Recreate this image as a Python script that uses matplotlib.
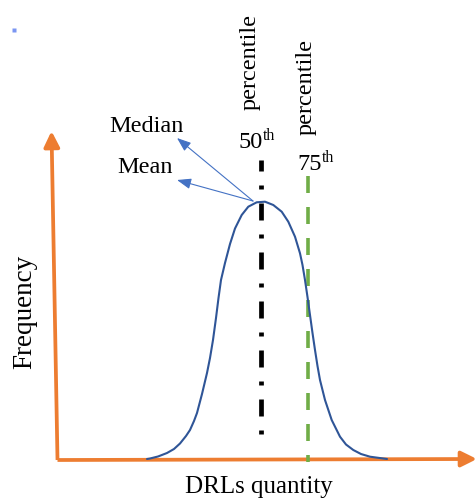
import matplotlib
matplotlib.use("Agg")
import matplotlib.pyplot as plt
from matplotlib.patches import FancyArrowPatch

plt.rcParams['font.family'] = ['Liberation Serif', 'DejaVu Serif']
plt.rcParams['lines.scale_dashes'] = False

# ---- data (x: DRLs quantity, y: frequency) ----
drl = [147, 150, 158, 167, 174, 180, 186, 190, 194, 197, 202, 207, 210, 213,
       216, 218.5, 221, 225, 230, 235, 241.7, 248.3, 256.7, 265, 273.3, 281.7,
       288.3, 295, 300, 302.5, 305, 307.5, 310, 312.5, 315, 317.5, 320, 325,
       331.7, 340, 346, 353.3, 361, 370, 383.3, 387]
freq = [0, 0.5, 2.5, 6, 10, 15.5, 23, 29, 38, 46, 65, 86, 101, 119,
        141, 161, 179, 196, 215, 230.5, 244, 252.3, 256.7, 257.3, 254, 247.3,
        237.3, 222.3, 205.7, 194, 179, 162, 144, 126, 109, 93, 79, 59,
        39, 22.3, 14.5, 9, 5, 2.3, 0.5, 0]

p50_x = 260.5
p75_x = 307.5
p50_span = (20, 299)
p75_span = (-3, 283)

median_mean_from = (253, 258)
median_tip = (177, 321)
mean_tip = (177, 279)

axis_origin = (57.5, -1)
y_axis_tip = (51.5, 328)
x_axis_tip = (477, 0)

x_label = "DRLs quantity"
y_label = "Frequency"
median_label = "Median"
mean_label = "Mean"
pct_word = "percentile"
p50_num, p75_num, ordinal = "50", "75", "th"

# ---- figure ----
fig = plt.figure(figsize=(4.76, 4.99), dpi=100)
ax = fig.add_axes([0, 0, 1, 1])
ax.set_xlim(0, 476)
ax.set_ylim(-40, 459)
ax.axis('off')

orange = '#ED7D31'
curve_blue = '#2F5597'
arrow_blue = '#4472C4'
green = '#70AD47'

# axes arrows
for tip in (y_axis_tip, x_axis_tip):
    ax.add_patch(FancyArrowPatch(axis_origin, tip,
                 arrowstyle='-|>,head_length=9.5,head_width=4.7',
                 mutation_scale=1, color=orange, lw=2.7,
                 shrinkA=0, shrinkB=0, capstyle='butt'))

# percentile lines
px = 0.72
ax.plot([p50_x, p50_x], [p50_span[1], p50_span[0]], color='black', lw=3.4,
        linestyle=(6 * px, (17 * px, 14 * px, 4 * px, 14 * px)),
        solid_capstyle='butt')
ax.plot([p75_x, p75_x], [p75_span[1], p75_span[0]], color=green, lw=2.6,
        linestyle=(0, (17 * px, 14 * px)))

# distribution curve
ax.plot(drl, freq, color=curve_blue, lw=1.5, solid_capstyle='round',
        solid_joinstyle='round')

# median / mean arrows
for tip in (median_tip, mean_tip):
    ax.add_patch(FancyArrowPatch(median_mean_from, tip,
                 arrowstyle='-|>,head_length=8.5,head_width=3.2',
                 mutation_scale=1, color=arrow_blue, lw=0.8,
                 shrinkA=0, shrinkB=0))

# texts
ax.text(146.5, 459 - 132, median_label, fontsize=17.5, ha='center', va='baseline')
ax.text(145, 459 - 173, mean_label, fontsize=17.5, ha='center', va='baseline')

ax.text(250, 459 - 61.5, pct_word, fontsize=17.5, rotation=90, ha='center', va='center')
ax.text(306.5, 459 - 86.5, pct_word, fontsize=17.5, rotation=90, ha='center', va='center')

ax.text(263, 459 - 148, p50_num, fontsize=17.5, ha='right', va='baseline')
ax.text(263, 459 - 140, ordinal, fontsize=11.5, ha='left', va='baseline')
ax.text(321.5, 459 - 170, p75_num, fontsize=17.5, ha='right', va='baseline')
ax.text(321.5, 459 - 162, ordinal, fontsize=11.5, ha='left', va='baseline')

ax.text(25, 459 - 312, y_label, fontsize=19.5, rotation=90, ha='center', va='center')
ax.text(259, 459 - 493.5, x_label, fontsize=18, ha='center', va='baseline')

# stray mark at top-left of the original image
ax.plot([14.3], [459 - 30], marker='s', ms=2.2, color='#7B96F2', mec='none')

fig.savefig('out.png', dpi=100)
